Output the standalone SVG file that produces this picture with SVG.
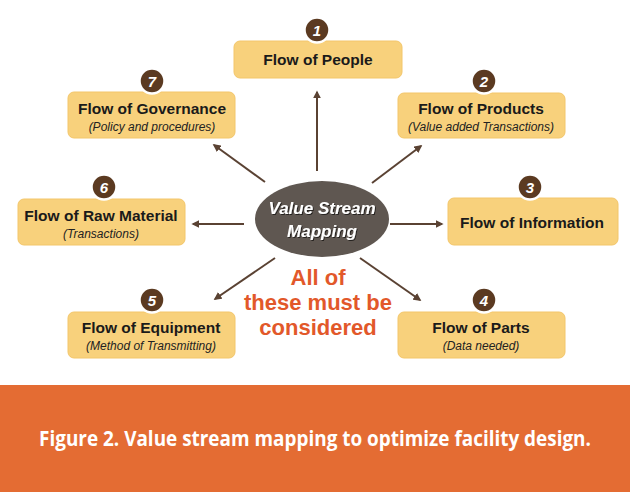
<svg xmlns="http://www.w3.org/2000/svg" width="630" height="492" viewBox="0 0 630 492">
<defs>
<style>
.box{fill:#F8D17C;stroke:#F3C66A;stroke-width:1}
.badge{fill:#5B3A21;stroke:#ffffff;stroke-width:2.5}
.num{font-family:"Liberation Sans",Arial,sans-serif;font-weight:bold;font-style:italic;font-size:15px;fill:#ffffff;text-anchor:middle}
.title{font-family:"Liberation Sans",Arial,sans-serif;font-weight:bold;font-size:15.5px;fill:#1a1a1a;text-anchor:middle}
.sub{font-family:"Liberation Sans",Arial,sans-serif;font-style:italic;font-size:12px;fill:#222;text-anchor:middle}
.conn line{stroke:#5A4233;stroke-width:2;marker-end:url(#ah)}
.hub{font-family:"Liberation Sans",Arial,sans-serif;font-weight:bold;font-style:italic;font-size:17px;fill:#ffffff;text-anchor:middle}
.note{font-family:"Liberation Sans",Arial,sans-serif;font-weight:bold;font-size:22px;fill:#E2582A;text-anchor:middle}
</style>
<marker id="ah" viewBox="0 0 10 10" refX="8" refY="5" markerWidth="4" markerHeight="4" orient="auto" markerUnits="strokeWidth">
<path d="M0,0 L10,5 L0,10 z" fill="#5A4233"/>
</marker>
<filter id="sh" x="-20%" y="-20%" width="140%" height="140%">
<feDropShadow dx="1" dy="1" stdDeviation="0.6" flood-color="#000" flood-opacity="0.6"/>
</filter>
</defs>
<rect x="0" y="0" width="630" height="492" fill="#ffffff"/>

<g id="connectors" class="conn">
<line x1="317" y1="171" x2="317" y2="92"/>
<line x1="372" y1="183" x2="421" y2="146"/>
<line x1="390" y1="224" x2="442" y2="224"/>
<line x1="360" y1="258" x2="420" y2="300"/>
<line x1="275" y1="258" x2="215" y2="299"/>
<line x1="244" y1="224" x2="193" y2="224"/>
<line x1="265" y1="182" x2="214" y2="145"/>
</g>

<g id="hub">
<ellipse cx="322" cy="219" rx="67" ry="38" fill="#5F5751"/>
<text class="hub" x="322" y="214" filter="url(#sh)">Value Stream</text>
<text class="hub" x="322" y="237" filter="url(#sh)">Mapping</text>
</g>

<g id="note">
<text class="note" x="318" y="285">All of</text>
<text class="note" x="318" y="310">these must be</text>
<text class="note" x="318" y="335">considered</text>
</g>

<g id="node1">
<rect class="box" x="234" y="41" width="168" height="37" rx="6"/>
<circle class="badge" cx="317" cy="30" r="12.5"/>
<text class="num" x="317" y="35.5">1</text>
<text class="title" x="318" y="65">Flow of People</text>
</g>

<g id="node2">
<rect class="box" x="398" y="93" width="167" height="45" rx="6"/>
<circle class="badge" cx="484" cy="81" r="12.5"/>
<text class="num" x="484" y="86.5">2</text>
<text class="title" x="481" y="114">Flow of Products</text>
<text class="sub" x="481" y="131">(Value added Transactions)</text>
</g>

<g id="node3">
<rect class="box" x="448" y="198" width="170" height="47" rx="6"/>
<circle class="badge" cx="530" cy="187" r="12.5"/>
<text class="num" x="530" y="192.5">3</text>
<text class="title" x="532" y="228">Flow of Information</text>
</g>

<g id="node4">
<rect class="box" x="398" y="312" width="167" height="46" rx="6"/>
<circle class="badge" cx="484" cy="300" r="12.5"/>
<text class="num" x="484" y="305.5">4</text>
<text class="title" x="481" y="333">Flow of Parts</text>
<text class="sub" x="481" y="350">(Data needed)</text>
</g>

<g id="node5">
<rect class="box" x="68" y="312" width="167" height="46" rx="6"/>
<circle class="badge" cx="152" cy="300" r="12.5"/>
<text class="num" x="152" y="305.5">5</text>
<text class="title" x="151" y="333">Flow of Equipment</text>
<text class="sub" x="151" y="350">(Method of Transmitting)</text>
</g>

<g id="node6">
<rect class="box" x="18" y="199" width="167" height="46" rx="6"/>
<circle class="badge" cx="104" cy="187" r="12.5"/>
<text class="num" x="104" y="192.5">6</text>
<text class="title" x="101" y="221">Flow of Raw Material</text>
<text class="sub" x="101" y="238">(Transactions)</text>
</g>

<g id="node7">
<rect class="box" x="68" y="92" width="167" height="46" rx="6"/>
<circle class="badge" cx="152" cy="81" r="12.5"/>
<text class="num" x="152" y="86.5">7</text>
<text class="title" x="152" y="114">Flow of Governance</text>
<text class="sub" x="152" y="131">(Policy and procedures)</text>
</g>

<g id="caption">
<rect x="0" y="385" width="630" height="107" fill="#E46C33"/>
<text transform="translate(315 446) scale(0.88 1)" x="0" y="0" font-family="'Open Sans','Liberation Sans',sans-serif" font-weight="bold" font-size="21.5" fill="#ffffff" text-anchor="middle">Figure 2. Value stream mapping to optimize facility design.</text>
</g>
</svg>
